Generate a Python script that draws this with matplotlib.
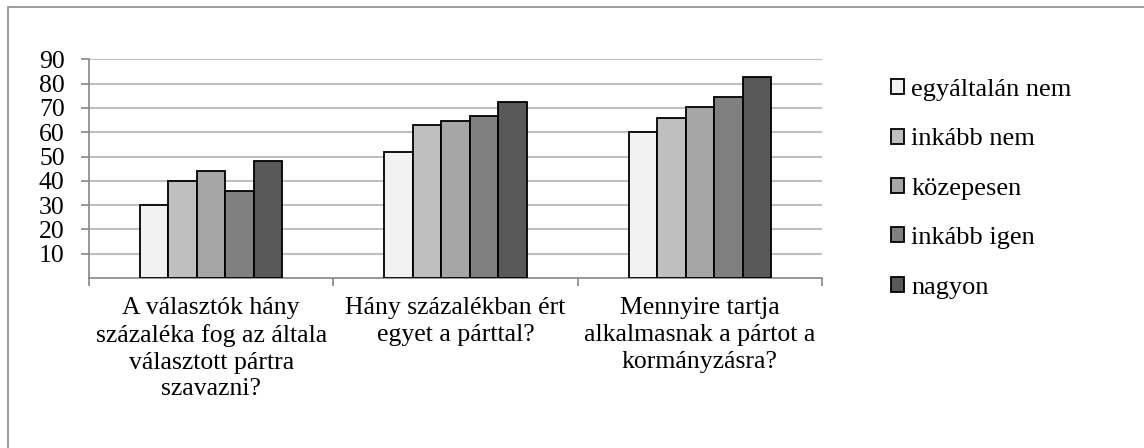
import matplotlib.pyplot as plt
from matplotlib.patches import Rectangle

# data
categories = [
    "A választók hány\nszázaléka fog az általa\nválasztott pártra\nszavazni?",
    "Hány százalékban ért\negyet a párttal?",
    "Mennyire tartja\nalkalmasnak a pártot a\nkormányzásra?",
]
series_names = ["egyáltalán nem", "inkább nem", "közepesen", "inkább igen", "nagyon"]
egyaltalan_nem = [30, 52, 60]
inkabb_nem = [40, 63, 66]
kozepesen = [44, 64.5, 70.5]
inkabb_igen = [36, 66.5, 74.5]
nagyon = [48.3, 72.5, 82.7]
series_values = [egyaltalan_nem, inkabb_nem, kozepesen, inkabb_igen, nagyon]
colors = ["#F2F2F2", "#BFBFBF", "#A6A6A6", "#808080", "#595959"]
y_ticks = [10, 20, 30, 40, 50, 60, 70, 80, 90]

plt.rcParams["font.family"] = ["Liberation Serif", "DejaVu Serif"]
FS = 18.5

fig = plt.figure(figsize=(11.44, 4.48), dpi=100)
ax = fig.add_axes([89 / 1144, 1 - 278 / 448, (822 - 89) / 1144, (278 - 59.3) / 448])

# outer chart frame (runs off the right and bottom edges)
fig.patches.append(Rectangle((7.5 / 1144, -0.2), 1.2, 1.2 - 6.5 / 448,
                             transform=fig.transFigure, fill=False,
                             edgecolor="#8c8c8c", linewidth=1.2))

width = 0.1165
x = range(len(categories))
for k, (name, vals, col) in enumerate(zip(series_names, series_values, colors)):
    pos = [i + (k - 2) * width for i in x]
    ax.bar(pos, vals, width=width, color=col, edgecolor="black",
           linewidth=1.3, label=name, zorder=3)

ax.set_xlim(-0.5, 2.5)
ax.set_ylim(0, 90)
ax.set_yticks(y_ticks)
ax.set_yticklabels([str(t) for t in y_ticks], fontsize=FS)
ax.yaxis.grid(True, color="#BFBFBF", linewidth=1.5, zorder=0)
ax.set_axisbelow(True)

for s in ["top", "right"]:
    ax.spines[s].set_visible(False)
for s in ["left", "bottom"]:
    ax.spines[s].set_color("#868686")
    ax.spines[s].set_linewidth(1.2)

ax.tick_params(axis="y", length=6, width=1.2, color="#868686", pad=11.5)
ax.set_xticks(list(x))
ax.set_xticklabels(categories, fontsize=FS, linespacing=1.27)
ax.tick_params(axis="x", which="major", length=0, pad=14)
ax.set_xticks([-0.5, 0.5, 1.5, 2.5], minor=True)
ax.tick_params(axis="x", which="minor", length=6, width=1.2, color="#868686")

fig.legend(loc="upper left", bbox_to_anchor=(891 / 1144, 1 - 79 / 448),
           frameon=False, fontsize=19, handlelength=0.5, handleheight=0.5,
           handletextpad=0.27, labelspacing=1.04, borderpad=0, borderaxespad=0)

fig.savefig("out.png", dpi=100)
